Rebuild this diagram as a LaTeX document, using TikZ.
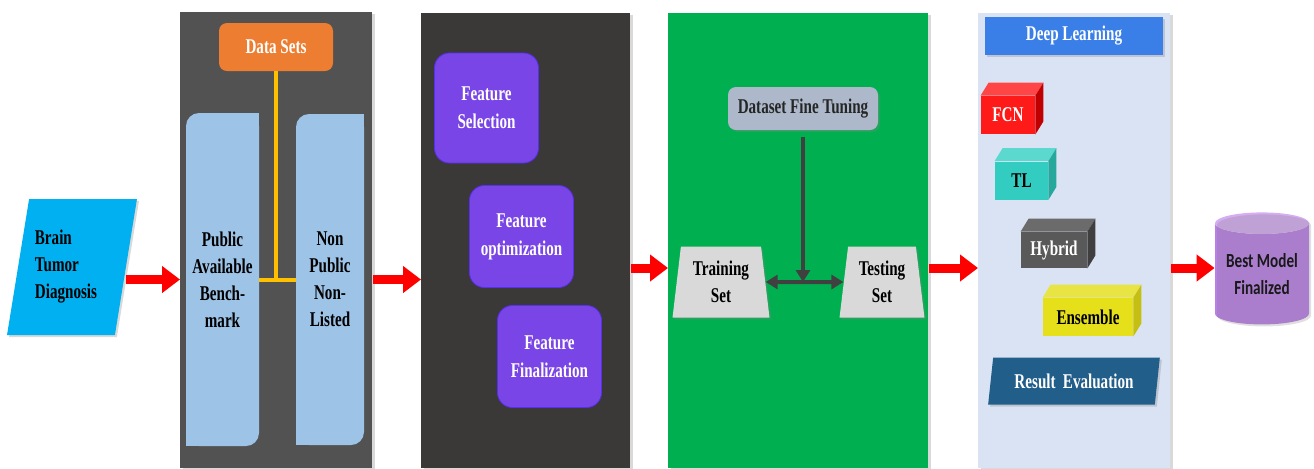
\documentclass[tikz,border=0pt]{standalone}
\usepackage{fontspec}
\setmainfont{Liberation Serif}
\newfontfamily\condfont[FakeStretch=0.72]{Liberation Serif}
\newfontfamily\condsans[FakeStretch=0.76]{Carlito}
\usetikzlibrary{arrows.meta, shapes.geometric, shadows}

\definecolor{panelA}{HTML}{525252}
\definecolor{panelB}{HTML}{3A3938}
\definecolor{panelC}{HTML}{00B050}
\definecolor{panelD}{HTML}{DAE3F3}
\definecolor{brainblue}{HTML}{00B0F0}
\definecolor{dsorange}{HTML}{ED7D31}
\definecolor{dsyellow}{HTML}{FFC000}
\definecolor{boxblue}{HTML}{9DC3E6}
\definecolor{featpurple}{HTML}{7A45E6}
\definecolor{dftgray}{HTML}{ADB9CA}
\definecolor{trapgray}{HTML}{D9D9D9}
\definecolor{darkline}{HTML}{404040}
\definecolor{dlblue}{HTML}{3A7FE8}
\definecolor{fcnfront}{HTML}{FF1A1A}
\definecolor{fcntop}{HTML}{FF4545}
\definecolor{fcnside}{HTML}{C00000}
\definecolor{tlfront}{HTML}{33CCC0}
\definecolor{tltop}{HTML}{5CD9CE}
\definecolor{tlside}{HTML}{27A89D}
\definecolor{hybfront}{HTML}{595959}
\definecolor{hybtop}{HTML}{6B6B6B}
\definecolor{hybside}{HTML}{3F3F3F}
\definecolor{ensfront}{HTML}{E5E01A}
\definecolor{enstop}{HTML}{E8E444}
\definecolor{ensside}{HTML}{C4BF12}
\definecolor{resblue}{HTML}{215F8A}
\definecolor{cylbody}{HTML}{B97EE8}
\definecolor{cyltop}{HTML}{D6ADF2}

\begin{document}
\begin{tikzpicture}[x=0.5pt, y=-0.5pt,
	lbl/.style={font=\condfont\bfseries\fontsize{10.5}{13.5}\selectfont, align=center, inner sep=0pt},
	panel/.style 2 args={anchor=north west, inner sep=0pt, minimum width=#1, minimum height=#2,
		drop shadow={shadow xshift=1.5pt, shadow yshift=-1pt, opacity=.3}},
	rbox/.style={lbl, rounded corners=4pt},
	featbox/.style={lbl, rounded corners=7.5pt, fill=featpurple, draw=featpurple!70!blue, text=white,
		minimum width=52pt, minimum height=51pt, font=\condfont\bfseries\fontsize{10.5}{14}\selectfont},
	lightbox/.style={lbl, path picture={
		\fill[boxblue, rounded corners=6.5pt] (path picture bounding box.south west) rectangle (path picture bounding box.north east);
		\fill[boxblue] (path picture bounding box.north east) rectangle ++(-8pt,-8pt);
		\fill[boxblue] (path picture bounding box.south west) rectangle ++(8pt,8pt);}},
	trap/.style={lbl, trapezium, trapezium stretches=true, trapezium angle=82, fill=trapgray,
		minimum height=35.5pt, drop shadow={shadow xshift=1pt, shadow yshift=-1pt, opacity=.3}},
	cube/.style={lbl, minimum height=19pt},
	bigred/.style={draw=red, line width=4.5pt, -{Triangle[length=9pt, width=13pt]}},
	darkarr/.style={draw=darkline, line width=2pt, -{Triangle[length=6pt, width=7pt]}},
	tee/.style={draw=dsyellow, line width=2pt},
	]

	\useasboundingbox (0,0) rectangle (1314,468);

	% panels
	\node[panel={96pt}{228pt}, fill=panelA] (p1) at (180,12) {};
	\node[panel={104.5pt}{227.5pt}, fill=panelB] (p2) at (421,13) {};
	\node[panel={130pt}{227.5pt}, fill=panelC] (p3) at (668,13) {};
	\node[panel={96pt}{227.5pt}, fill=panelD] (p4) at (978,13) {};
	\coordinate (flow) at (1262,268);

	% input
	\node[lbl, trapezium, trapezium stretches=true, trapezium left angle=80, trapezium right angle=100,
		fill=brainblue, minimum width=65pt, minimum height=68pt, align=left,
		drop shadow={shadow xshift=1pt, shadow yshift=-1pt, opacity=.3}] (brain) at (72,267)
		{\hspace*{-6pt}Brain\\\hspace*{-6pt}Tumor\\\hspace*{-6pt}Diagnosis};

	% data sets
	\node[rbox, fill=dsorange, text=white, minimum width=57pt, minimum height=24pt] (ds) at (276,47) {Data Sets};
	\node[lightbox, minimum width=36.5pt, minimum height=166.5pt] (pab) at (222.5,279.5) {Public\\Available\\Bench-\\mark};
	\node[lightbox, minimum width=34pt, minimum height=165.5pt] (npl) at (330,279.5) {Non\\Public\\Non-\\Listed};
	\draw[tee] (ds.south) -- (ds.south |- pab.east);
	\draw[tee] (pab.east) -- (npl.west);

	% features
	\node[featbox, minimum height=55pt] (fsel) at (486.5,108) {Feature\\Selection};
	\node[featbox] (fopt) at (521.5,236.5) {Feature\\optimization};
	\node[featbox] (ffin) at (549.5,356.5) {Feature\\Finalization};

	% split
	\node[rbox, fill=dftgray, text=black!85, minimum width=75pt, minimum height=21.5pt,
		drop shadow={shadow xshift=1pt, shadow yshift=-1pt, opacity=.3}] (dft) at (803,108.5) {Dataset Fine Tuning};
	\node[trap, minimum width=48.5pt] (trn) at (721,282) {Training\\Set};
	\node[trap, minimum width=42.5pt] (tst) at (882,282) {Testing\\Set};
	\draw[darkarr, shorten <=3.5pt] (dft.south) -- (dft.south |- trn.east);
	\draw[darkarr, {Triangle[length=6pt, width=7pt]}-{Triangle[length=6pt, width=7pt]}] (trn.east) -- (tst.west);

	% deep learning
	\node[lbl, fill=dlblue, text=white, minimum width=89pt, minimum height=19pt,
		drop shadow={shadow xshift=1pt, shadow yshift=-1pt, opacity=.3}] (dl) at (1074,36) {Deep Learning};
	\node[cube, fill=fcnfront, text=white, minimum width=27pt] (fcn) at (1008,115) {FCN};
	\node[cube, fill=tlfront, minimum width=26.5pt] (tl) at (1021.5,180.5) {TL};
	\node[cube, fill=hybfront, text=white, minimum width=33pt, minimum height=18pt] (hyb) at (1054,250) {Hybrid};
	\node[cube, fill=ensfront, minimum width=45pt] (ens) at (1088,317) {Ensemble};
	\foreach \n/\tp/\sd in {fcn/fcntop/fcnside, tl/tltop/tlside, hyb/hybtop/hybside, ens/enstop/ensside}{
		\fill[\tp] (\n.north west) -- ++(4pt,6.5pt) -- ([shift={(4pt,6.5pt)}]\n.north east) -- (\n.north east) -- cycle;
		\fill[\sd] (\n.north east) -- ++(4pt,6.5pt) -- ([shift={(4pt,6.5pt)}]\n.south east) -- (\n.south east) -- cycle;
	}
	\node[lbl, trapezium, trapezium stretches=true, trapezium left angle=76, trapezium right angle=104,
		fill=resblue, text=white, minimum width=86pt, minimum height=23.5pt,
		drop shadow={shadow xshift=1pt, shadow yshift=-1pt, opacity=.3}] (res) at (1074,381) {Result\ \,Evaluation};

	% output
	\node[cylinder, shape border rotate=90, aspect=0.3, minimum width=47pt, minimum height=56pt, inner sep=0pt,
		cylinder uses custom fill, cylinder body fill=cylbody, cylinder end fill=cyltop, align=center,
		text=black!90, font=\condsans\bfseries\fontsize{10}{13.5}\selectfont,
		drop shadow={shadow xshift=1pt, shadow yshift=-1pt, opacity=.25}] (best) at (1262,274) {Best Model\\Finalized};

	% flow
	\draw[bigred] (brain.east |- pab.east) -- (p1.west |- pab.east);
	\draw[bigred] (p1.east |- pab.east) -- (p2.west |- pab.east);
	\draw[bigred] (p2.east |- flow) -- (p3.west |- flow);
	\draw[bigred] (p3.east |- flow) -- (p4.west |- flow);
	\draw[bigred] (p4.east |- flow) -- (best.west |- flow);

\end{tikzpicture}
\end{document}
